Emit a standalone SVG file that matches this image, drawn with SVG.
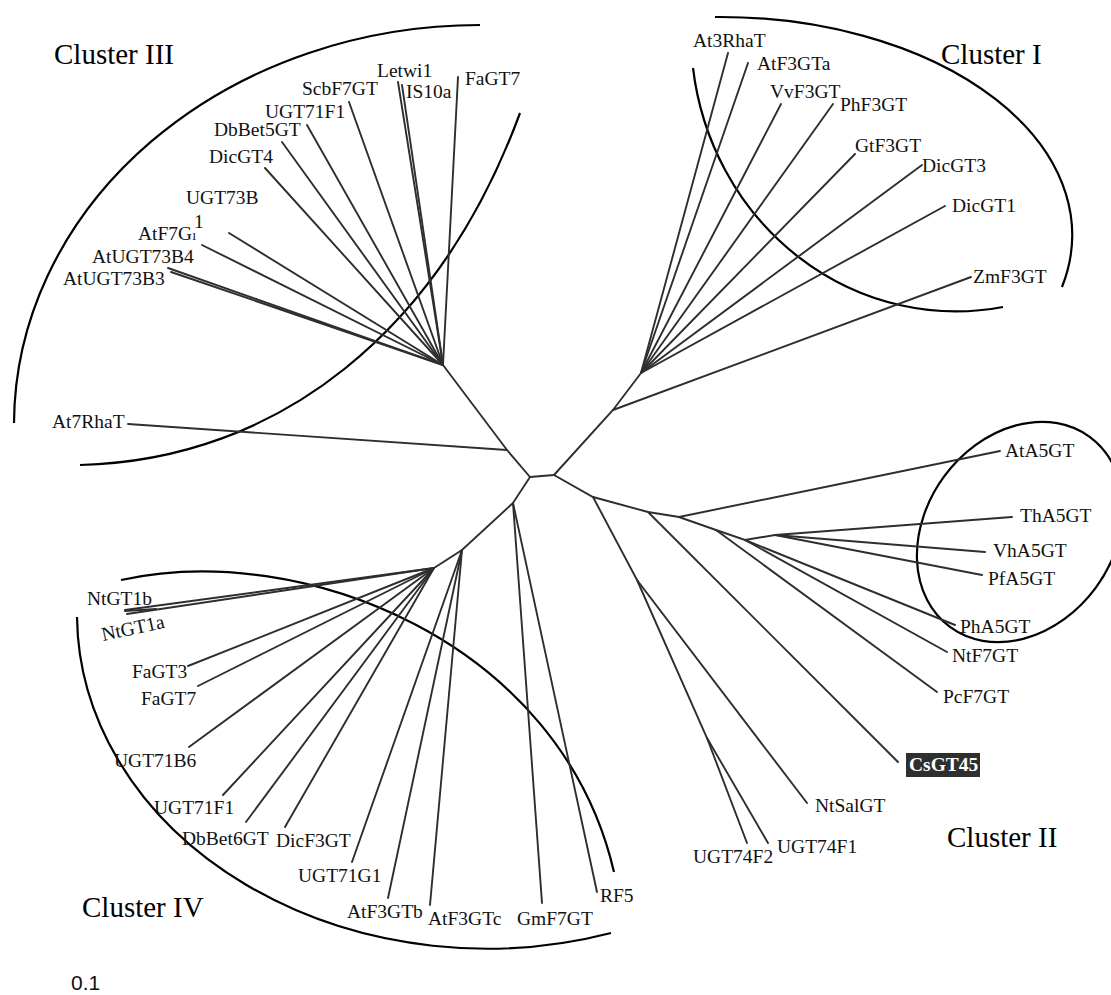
<svg xmlns="http://www.w3.org/2000/svg" width="1111" height="995" viewBox="0 0 1111 995">
<style>
.br{stroke:#2e2e2e;stroke-width:1.9;fill:none;stroke-linecap:round}
.arc{stroke:#000;stroke-width:2.2;fill:none}
text{font-family:"Liberation Serif","Times New Roman",serif;font-size:19.5px;fill:#111}
.ttl{font-size:29px;fill:#000}
.scale{font-family:"Liberation Sans",Arial,sans-serif;font-size:21px}
.hl{font-weight:bold;fill:#fff}
</style>
<rect width="1111" height="995" fill="#fff"/>
<g id="clusters">
<path class="arc" d="M14 423 A466 400 0 0 1 480 25"/>
<path class="arc" d="M80 465 C280 460 440 330 520 113"/>
<path class="arc" d="M715 17 A352 218 0 0 1 1062 287"/>
<path class="arc" d="M693 68 A265 278 0 0 0 1003 307"/>
<ellipse class="arc" cx="1020" cy="532" rx="94" ry="118" transform="rotate(36.4 1020 532)"/>
<path class="arc" d="M121 580 C300 540 560 640 614 872"/>
<path class="arc" d="M77 617 A410 335 0 0 0 611 933"/>
</g>
<g id="connectors">
<line class="br" x1="530" y1="477" x2="554" y2="475"/>
<!-- Cluster III -->
<polyline class="br" points="530,477 507,450 443,365"/>
<line class="br" x1="507" y1="450" x2="128" y2="424"/>
<line class="br" x1="443" y1="365" x2="398" y2="82"/>
<line class="br" x1="443" y1="365" x2="402" y2="85"/>
<line class="br" x1="443" y1="365" x2="458" y2="77"/>
<line class="br" x1="443" y1="365" x2="349" y2="102"/>
<line class="br" x1="443" y1="365" x2="307" y2="125"/>
<line class="br" x1="443" y1="365" x2="282" y2="142"/>
<line class="br" x1="443" y1="365" x2="265" y2="168"/>
<line class="br" x1="443" y1="365" x2="229" y2="233"/>
<line class="br" x1="443" y1="365" x2="202" y2="245"/>
<line class="br" x1="443" y1="365" x2="168" y2="268"/>
<line class="br" x1="443" y1="365" x2="171" y2="272"/>
<!-- Cluster I -->
<polyline class="br" points="554,475 613,410 641,373"/>
<line class="br" x1="613" y1="410" x2="971" y2="277"/>
<line class="br" x1="641" y1="373" x2="728" y2="53"/>
<line class="br" x1="641" y1="373" x2="748" y2="63"/>
<line class="br" x1="641" y1="373" x2="781" y2="104"/>
<line class="br" x1="641" y1="373" x2="833" y2="104"/>
<line class="br" x1="641" y1="373" x2="855" y2="154"/>
<line class="br" x1="641" y1="373" x2="922" y2="165"/>
<line class="br" x1="641" y1="373" x2="945" y2="206"/>
<!-- Cluster II -->
<polyline class="br" points="554,475 593,497 648,512 679,517 716,530 745,540 775,535"/>
<polyline class="br" points="593,497 637,580 807,803"/>
<polyline class="br" points="637,580 707,738 747,843"/>
<line class="br" x1="707" y1="738" x2="768" y2="843"/>
<line class="br" x1="648" y1="512" x2="898" y2="762"/>
<line class="br" x1="679" y1="517" x2="1000" y2="451"/>
<line class="br" x1="716" y1="530" x2="937" y2="692"/>
<line class="br" x1="745" y1="540" x2="947" y2="652"/>
<line class="br" x1="745" y1="540" x2="955" y2="625"/>
<line class="br" x1="775" y1="535" x2="1012" y2="517"/>
<line class="br" x1="775" y1="535" x2="985" y2="552"/>
<line class="br" x1="775" y1="535" x2="982" y2="575"/>
<!-- Cluster IV -->
<polyline class="br" points="530,477 513,503 462,550 434,568"/>
<line class="br" x1="513" y1="503" x2="542" y2="903"/>
<line class="br" x1="513" y1="503" x2="597" y2="892"/>
<line class="br" x1="462" y1="550" x2="352" y2="862"/>
<line class="br" x1="462" y1="550" x2="388" y2="898"/>
<line class="br" x1="462" y1="550" x2="430" y2="905"/>
<line class="br" x1="434" y1="568" x2="125" y2="610"/>
<line class="br" x1="434" y1="568" x2="127" y2="614"/>
<line class="br" x1="125" y1="611" x2="156" y2="609" stroke-width="3.2" stroke="#222" stroke-linecap="round"/>
<line class="br" x1="434" y1="568" x2="188" y2="666"/>
<line class="br" x1="434" y1="568" x2="198" y2="686"/>
<line class="br" x1="434" y1="568" x2="189" y2="747"/>
<line class="br" x1="434" y1="568" x2="223" y2="795"/>
<line class="br" x1="434" y1="568" x2="246" y2="822"/>
<line class="br" x1="434" y1="568" x2="285" y2="827"/>
</g>
<g id="titles">
<text class="ttl" x="54" y="64">Cluster III</text>
<text class="ttl" x="941" y="64">Cluster I</text>
<text class="ttl" x="947" y="847">Cluster II</text>
<text class="ttl" x="82" y="917">Cluster IV</text>
<text class="scale" x="71" y="990">0.1</text>
</g>
<g id="n-Letwi1"><text x="377" y="77">Letwi1</text></g>
<g id="n-IS10a"><text x="406" y="98">IS10a</text></g>
<g id="n-FaGT7-III"><text x="465" y="85">FaGT7</text></g>
<g id="n-ScbF7GT"><text x="302" y="95">ScbF7GT</text></g>
<g id="n-UGT71F1-III"><text x="265" y="118">UGT71F1</text></g>
<g id="n-DbBet5GT"><text x="214" y="136">DbBet5GT</text></g>
<g id="n-DicGT4"><text x="209" y="163">DicGT4</text></g>
<g id="n-UGT73B1"><text x="186" y="204">UGT73B</text><text x="194" y="228">1</text></g>
<g id="n-AtF7GT"><text x="138" y="240">AtF7G<tspan font-size="14px">ı</tspan></text></g>
<g id="n-AtUGT73B4"><text x="92" y="263">AtUGT73B4</text></g>
<g id="n-AtUGT73B3"><text x="63" y="285">AtUGT73B3</text></g>
<g id="n-At7RhaT"><text x="52" y="428">At7RhaT</text></g>
<g id="n-At3RhaT"><text x="693" y="47">At3RhaT</text></g>
<g id="n-AtF3GTa"><text x="757" y="70">AtF3GTa</text></g>
<g id="n-VvF3GT"><text x="770" y="98">VvF3GT</text></g>
<g id="n-PhF3GT"><text x="840" y="111">PhF3GT</text></g>
<g id="n-GtF3GT"><text x="855" y="152">GtF3GT</text></g>
<g id="n-DicGT3"><text x="922" y="172">DicGT3</text></g>
<g id="n-DicGT1"><text x="952" y="212">DicGT1</text></g>
<g id="n-ZmF3GT"><text x="973" y="283">ZmF3GT</text></g>
<g id="n-AtA5GT"><text x="1005" y="457">AtA5GT</text></g>
<g id="n-ThA5GT"><text x="1020" y="522">ThA5GT</text></g>
<g id="n-VhA5GT"><text x="993" y="557">VhA5GT</text></g>
<g id="n-PfA5GT"><text x="988" y="585">PfA5GT</text></g>
<g id="n-PhA5GT"><text x="960" y="633">PhA5GT</text></g>
<g id="n-NtF7GT"><text x="952" y="662">NtF7GT</text></g>
<g id="n-PcF7GT"><text x="943" y="703">PcF7GT</text></g>
<g id="n-CsGT45"><rect x="906" y="753" width="74" height="24" fill="#2f2f2f"/><text class="hl" x="909" y="771">CsGT45</text></g>
<g id="n-NtSalGT"><text x="815" y="812">NtSalGT</text></g>
<g id="n-UGT74F1"><text x="777" y="853">UGT74F1</text></g>
<g id="n-UGT74F2"><text x="693" y="863">UGT74F2</text></g>
<g id="n-RF5"><text x="600" y="902">RF5</text></g>
<g id="n-GmF7GT"><text x="517" y="925">GmF7GT</text></g>
<g id="n-AtF3GTc"><text x="428" y="925">AtF3GTc</text></g>
<g id="n-AtF3GTb"><text x="347" y="918">AtF3GTb</text></g>
<g id="n-UGT71G1"><text x="298" y="882">UGT71G1</text></g>
<g id="n-DicF3GT"><text x="276" y="847">DicF3GT</text></g>
<g id="n-DbBet6GT"><text x="182" y="845">DbBet6GT</text></g>
<g id="n-UGT71F1-IV"><text x="154" y="814">UGT71F1</text></g>
<g id="n-UGT71B6"><text x="114" y="767">UGT71B6</text></g>
<g id="n-FaGT7-IV"><text x="141" y="705">FaGT7</text></g>
<g id="n-FaGT3"><text x="132" y="678">FaGT3</text></g>
<g id="n-NtGT1a"><text x="103" y="641" transform="rotate(-12 103 641)">NtGT1a</text></g>
<g id="n-NtGT1b"><text x="87" y="605">NtGT1b</text></g>
</svg>
